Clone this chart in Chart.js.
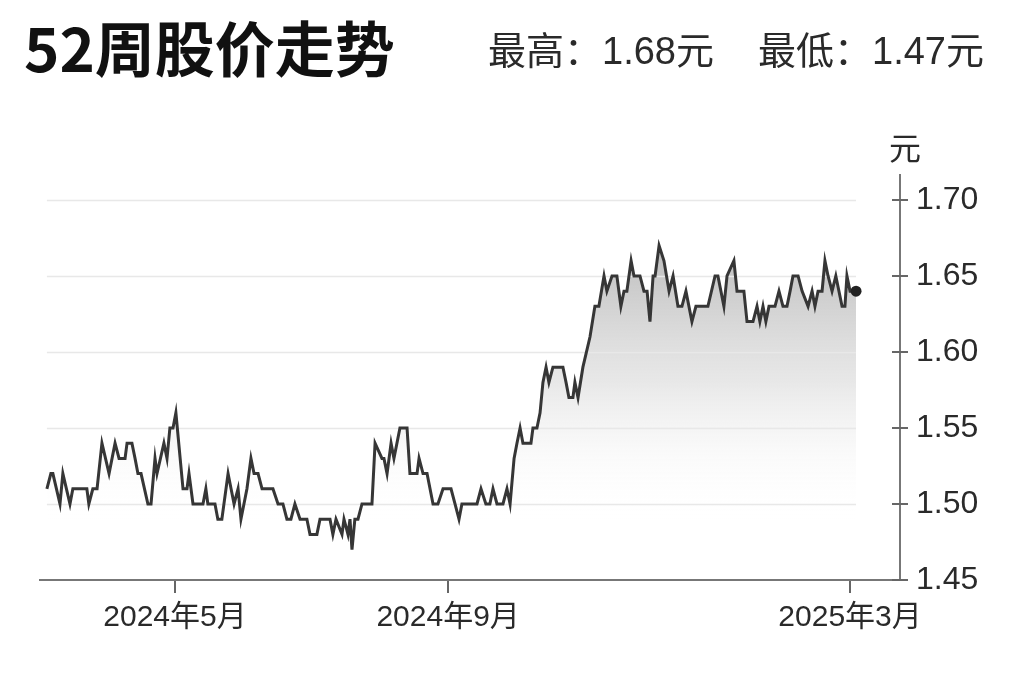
<!DOCTYPE html>
<html lang="zh-CN">
<head>
<meta charset="utf-8">
<title>52周股价走势</title>
<script src="https://cdn.jsdelivr.net/npm/chart.js@4.4.1/dist/chart.umd.min.js"></script>
<style>
  html, body { margin: 0; padding: 0; background: #fff; }
  #wrap { position: relative; width: 1024px; height: 682px; overflow: hidden; }
  #chart { position: absolute; left: 0; top: 0; }
  .txt { position: absolute; white-space: nowrap; font-family: "Liberation Sans", "Noto Sans CJK SC", sans-serif; }
  #title { left: 24px; top: 16px; font: bold 60px/60px "Noto Sans CJK SC", sans-serif; color: #111; }
  #hi { left: 488px; top: 32px; font-size: 38px; line-height: 38px; color: #2a2a2a; }
  #lo { left: 758px; top: 32px; font-size: 38px; line-height: 38px; color: #2a2a2a; }
  #unit { left: 889px; top: 133px; font-size: 32px; line-height: 32px; color: #2a2a2a; }
</style>
</head>
<body>
<div id="wrap">
  <canvas id="chart" width="1024" height="682"></canvas>
  <div class="txt" id="title">52周股价走势</div>
  <div class="txt" id="hi">最高：1.68元</div>
  <div class="txt" id="lo">最低：1.47元</div>
  <div class="txt" id="unit">元</div>
</div>
<script>
// 日期：从 2024-03-01 起算的天数；价格单位：元
const days = [
  3.3, 5.1, 6.0, 9.2, 10.5, 13.7, 15.0, 21.3, 22.2, 24.0, 25.9, 28.1, 31.3, 34.0, 35.8, 38.5,
  39.4, 41.6, 43.0, 44.3, 45.7, 48.8, 50.2, 52.0, 52.9, 56.0, 57.4, 58.7, 60.1, 61.4, 64.6, 66.4,
  67.3, 69.1, 73.6, 74.9, 75.8, 79.0, 80.3, 82.1, 84.9, 87.6, 89.4, 90.7, 93.4, 95.2, 96.6, 98.4,
  100.2, 105.1, 107.4, 109.6, 111.4, 113.2, 115.0, 117.3, 120.4, 121.8, 124.9, 126.3, 130.8, 132.1, 133.5, 136.2,
  137.1, 138.9, 139.8, 140.7, 142.0, 143.4, 145.2, 149.7, 151.1, 154.2, 155.1, 156.5, 158.3, 159.6, 162.3, 165.5,
  166.8, 170.0, 170.9, 172.7, 174.5, 177.2, 179.4, 181.7, 185.3, 187.1, 188.9, 190.2, 197.0, 198.8, 201.0, 202.8,
  204.2, 206.0, 208.7, 210.5, 211.9, 213.7, 215.0, 216.4, 217.7, 221.3, 222.2, 224.0, 225.4, 226.7, 228.1, 229.4,
  231.2, 235.7, 237.1, 238.4, 240.2, 241.1, 242.5, 244.7, 247.9, 250.1, 251.9, 254.2, 255.5, 257.8, 260.0, 261.8,
  263.2, 264.5, 266.4, 267.7, 270.4, 272.2, 273.6, 274.9, 276.3, 277.2, 279.0, 281.2, 283.5, 285.3, 287.5, 289.3,
  291.1, 293.8, 295.6, 301.0, 304.2, 305.5, 308.2, 309.6, 312.7, 314.1, 317.2, 318.6, 321.3, 323.1, 324.4, 325.8,
  327.1, 328.5, 331.2, 333.0, 334.8, 336.6, 338.0, 339.3, 341.6, 343.4, 346.1, 347.9, 349.2, 350.6, 352.4, 353.7,
  355.1, 356.9, 358.6, 361.4, 362.7, 363.6, 365.0, 365.9, 367.7
];
const prices = [
  1.51, 1.52, 1.52, 1.50, 1.52, 1.50, 1.51, 1.51, 1.50, 1.51, 1.51, 1.54, 1.52, 1.54, 1.53, 1.53,
  1.54, 1.54, 1.53, 1.52, 1.52, 1.50, 1.50, 1.53, 1.52, 1.54, 1.53, 1.55, 1.55, 1.56, 1.51, 1.51,
  1.52, 1.50, 1.50, 1.51, 1.50, 1.50, 1.49, 1.49, 1.52, 1.50, 1.51, 1.49, 1.51, 1.53, 1.52, 1.52,
  1.51, 1.51, 1.50, 1.50, 1.49, 1.49, 1.50, 1.49, 1.49, 1.48, 1.48, 1.49, 1.49, 1.48, 1.49, 1.48,
  1.49, 1.48, 1.49, 1.47, 1.49, 1.49, 1.50, 1.50, 1.54, 1.53, 1.53, 1.52, 1.54, 1.53, 1.55, 1.55,
  1.52, 1.52, 1.53, 1.52, 1.52, 1.50, 1.50, 1.51, 1.51, 1.50, 1.49, 1.50, 1.50, 1.51, 1.50, 1.50,
  1.51, 1.50, 1.50, 1.51, 1.50, 1.53, 1.54, 1.55, 1.54, 1.54, 1.55, 1.55, 1.56, 1.58, 1.59, 1.58,
  1.59, 1.59, 1.58, 1.57, 1.57, 1.58, 1.57, 1.59, 1.61, 1.63, 1.63, 1.65, 1.64, 1.65, 1.65, 1.63,
  1.64, 1.64, 1.66, 1.65, 1.65, 1.64, 1.64, 1.62, 1.65, 1.65, 1.67, 1.66, 1.64, 1.65, 1.63, 1.63,
  1.64, 1.62, 1.63, 1.63, 1.65, 1.65, 1.63, 1.65, 1.66, 1.64, 1.64, 1.62, 1.62, 1.63, 1.62, 1.63,
  1.62, 1.63, 1.63, 1.64, 1.63, 1.63, 1.64, 1.65, 1.65, 1.64, 1.63, 1.64, 1.63, 1.64, 1.64, 1.66,
  1.65, 1.64, 1.65, 1.63, 1.63, 1.65, 1.64, 1.64, 1.64
];

// 横轴刻度（天数）与标签
const tickDays = [61, 184, 365];
const tickLabels = ['2024年5月', '2024年9月', '2025年3月'];
// 纵轴刻度
const yTicks = [1.45, 1.50, 1.55, 1.60, 1.65, 1.70];

const points = days.map((d, i) => ({ x: d, y: prices[i] }));

// 网格线只画在数据范围内，刻度短线跨过右侧轴线
const yGuides = {
  id: 'yGuides',
  beforeDatasetsDraw(chart) {
    const { ctx, scales: { x, y } } = chart;
    const x0 = x.getPixelForValue(days[0]);
    const x1 = x.getPixelForValue(days[days.length - 1]);
    ctx.save();
    ctx.lineWidth = 1.5;
    ctx.strokeStyle = '#e8e8e8';
    yTicks.slice(1).forEach(v => {
      const py = Math.round(y.getPixelForValue(v)) + 0.5;
      ctx.beginPath();
      ctx.moveTo(x0, py);
      ctx.lineTo(x1, py);
      ctx.stroke();
    });
    ctx.strokeStyle = '#666';
    ctx.lineWidth = 2;
    ctx.beginPath();
    yTicks.forEach(v => {
      const py = y.getPixelForValue(v);
      ctx.moveTo(y.left - 8, py);
      ctx.lineTo(y.left + 8, py);
    });
    ctx.stroke();
    ctx.restore();
  }
};

Chart.defaults.font.family = '"Liberation Sans", "Noto Sans CJK SC", sans-serif';

new Chart(document.getElementById('chart'), {
  type: 'line',
  data: {
    datasets: [{
      data: points,
      borderColor: '#363636',
      borderWidth: 3,
      tension: 0,
      fill: 'start',
      backgroundColor: (ctx) => {
        const { chart } = ctx;
        const area = chart.chartArea;
        if (!area) return 'rgba(0,0,0,0)';
        const y = chart.scales.y;
        const g = chart.ctx.createLinearGradient(0, y.getPixelForValue(1.67), 0, y.getPixelForValue(1.49));
        g.addColorStop(0, 'rgba(170,170,170,0.78)');
        g.addColorStop(0.5, 'rgba(200,200,200,0.42)');
        g.addColorStop(1, 'rgba(255,255,255,0)');
        return g;
      },
      pointRadius: (ctx) => ctx.dataIndex === points.length - 1 ? 5.5 : 0,
      pointHoverRadius: 0,
      pointBackgroundColor: '#222',
      pointBorderColor: '#222',
      pointBorderWidth: 0
    }]
  },
  options: {
    responsive: false,
    animation: false,
    devicePixelRatio: 1,
    layout: { padding: { left: 40, top: 175, right: 0, bottom: 0 } },
    plugins: {
      legend: { display: false },
      tooltip: { enabled: false },
      filler: { drawTime: 'beforeDatasetsDraw' }
    },
    scales: {
      x: {
        type: 'linear',
        min: 0.2,
        max: 387.5,
        afterBuildTicks: (scale) => { scale.ticks = tickDays.map(v => ({ value: v })); },
        afterFit: (scale) => { scale.height = 102; },
        ticks: {
          autoSkip: false,
          maxRotation: 0,
          padding: 7,
          color: '#2a2a2a',
          font: { size: 30 },
          callback: (v) => tickLabels[tickDays.indexOf(v)]
        },
        grid: { display: true, drawOnChartArea: false, drawTicks: true, tickLength: 13, color: '#666', lineWidth: 2 },
        border: { display: true, color: '#777', width: 2 }
      },
      y: {
        position: 'right',
        min: 1.45,
        max: 1.7164,
        afterBuildTicks: (scale) => { scale.ticks = yTicks.map(v => ({ value: v })); },
        afterFit: (scale) => { scale.width = 124; },
        ticks: {
          padding: 16,
          color: '#2a2a2a',
          font: { size: 32 },
          callback: (v) => v.toFixed(2)
        },
        grid: { display: false, drawTicks: false },
        border: { display: true, color: '#777', width: 2 }
      }
    }
  },
  plugins: [yGuides]
});
</script>
</body>
</html>
